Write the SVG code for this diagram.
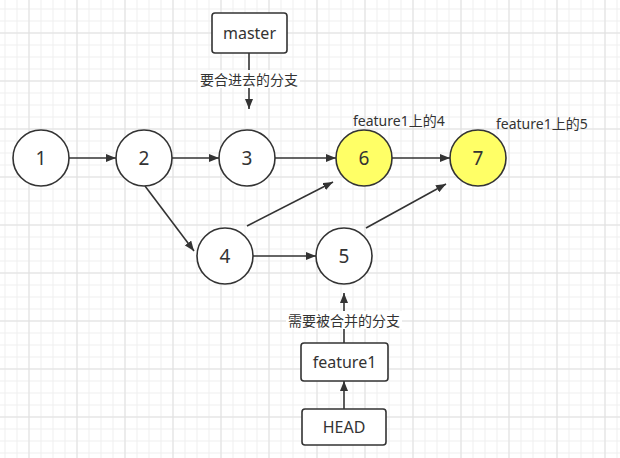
<svg xmlns="http://www.w3.org/2000/svg" width="620" height="458" viewBox="0 0 620 458">
<defs>
<pattern id="minor" width="12" height="12" patternUnits="userSpaceOnUse" x="4.5" y="8.5">
<path d="M0 0.5H12M0.5 0V12" fill="none" stroke="#efefef" stroke-width="1"/>
</pattern>
<pattern id="major" width="48" height="48" patternUnits="userSpaceOnUse" x="28.5" y="32.5">
<path d="M0 0.5H48M0.5 0V48" fill="none" stroke="#e0e0e0" stroke-width="1"/>
</pattern>
<marker id="arr" viewBox="0 0 10 8" refX="10" refY="4" markerWidth="10" markerHeight="8" markerUnits="userSpaceOnUse" orient="auto">
<path d="M0 0L10 4L0 8Z" fill="#333"/>
</marker>
</defs>
<style>
.c{fill:#fff;stroke:#333;stroke-width:1.6}
.y{fill:#ffff66}
.b{fill:#fff;stroke:#333;stroke-width:1.6}
.n{font-family:"Noto Sans","Noto Sans CJK SC",sans-serif;font-size:19px;fill:#333;text-anchor:middle;dominant-baseline:central}
.t{font-family:"Noto Sans","Noto Sans CJK SC",sans-serif;font-size:16px;fill:#333;text-anchor:middle;dominant-baseline:central}
.l{font-family:"Noto Sans","Noto Sans CJK SC",sans-serif;font-size:14px;fill:#333;dominant-baseline:central}
.e{fill:none;stroke:#333;stroke-width:1.6;marker-end:url(#arr)}
</style>
<rect width="620" height="458" fill="#fff"/>
<rect width="620" height="458" fill="url(#minor)"/>
<rect width="620" height="458" fill="url(#major)"/>
<g id="connectors">
<line class="e" x1="69" y1="158" x2="116" y2="158"/>
<line class="e" x1="172" y1="158" x2="219" y2="158"/>
<line class="e" x1="275" y1="158" x2="336" y2="158"/>
<line class="e" x1="392" y1="158" x2="450" y2="158"/>
<line class="e" x1="145" y1="186" x2="194" y2="251"/>
<line class="e" x1="247" y1="226" x2="333" y2="182"/>
<line class="e" x1="253" y1="256" x2="316" y2="256"/>
<line class="e" x1="366" y1="228" x2="446" y2="184"/>
<line class="e" x1="249" y1="53" x2="249" y2="109"/>
<line class="e" x1="344" y1="343" x2="344" y2="293"/>
<line class="e" x1="344" y1="409" x2="344" y2="381"/>
<rect x="198" y="70" width="102" height="18" fill="#fff"/>
<text class="l" x="249" y="79" text-anchor="middle">要合进去的分支</text>
<rect x="286" y="311" width="116" height="18" fill="#fff"/>
<text class="l" x="344" y="320" text-anchor="middle">需要被合并的分支</text>
</g>
<g id="n1"><circle class="c" cx="41" cy="158" r="28"/><text class="n" x="41" y="158">1</text></g>
<g id="n2"><circle class="c" cx="144" cy="158" r="28"/><text class="n" x="144" y="158">2</text></g>
<g id="n3"><circle class="c" cx="247" cy="158" r="28"/><text class="n" x="247" y="158">3</text></g>
<g id="n6"><circle class="c y" cx="364" cy="158" r="28"/><text class="n" x="364" y="158">6</text></g>
<g id="n7"><circle class="c y" cx="478" cy="158" r="28"/><text class="n" x="478" y="158">7</text></g>
<g id="n4"><circle class="c" cx="225" cy="256" r="28"/><text class="n" x="225" y="256">4</text></g>
<g id="n5"><circle class="c" cx="344" cy="256" r="28"/><text class="n" x="344" y="256">5</text></g>
<g id="lbl6"><text class="l" x="353" y="120">feature1上的4</text></g>
<g id="lbl7"><text class="l" x="496" y="123">feature1上的5</text></g>
<g id="master"><rect class="b" x="212" y="13" width="75" height="40" rx="3"/><text class="t" x="249.5" y="33">master</text></g>
<g id="feature1"><rect class="b" x="301" y="343" width="87" height="38" rx="3"/><text class="t" x="344.5" y="362">feature1</text></g>
<g id="head"><rect class="b" x="302" y="409" width="84" height="36" rx="3"/><text class="t" x="344" y="427">HEAD</text></g>
</svg>
